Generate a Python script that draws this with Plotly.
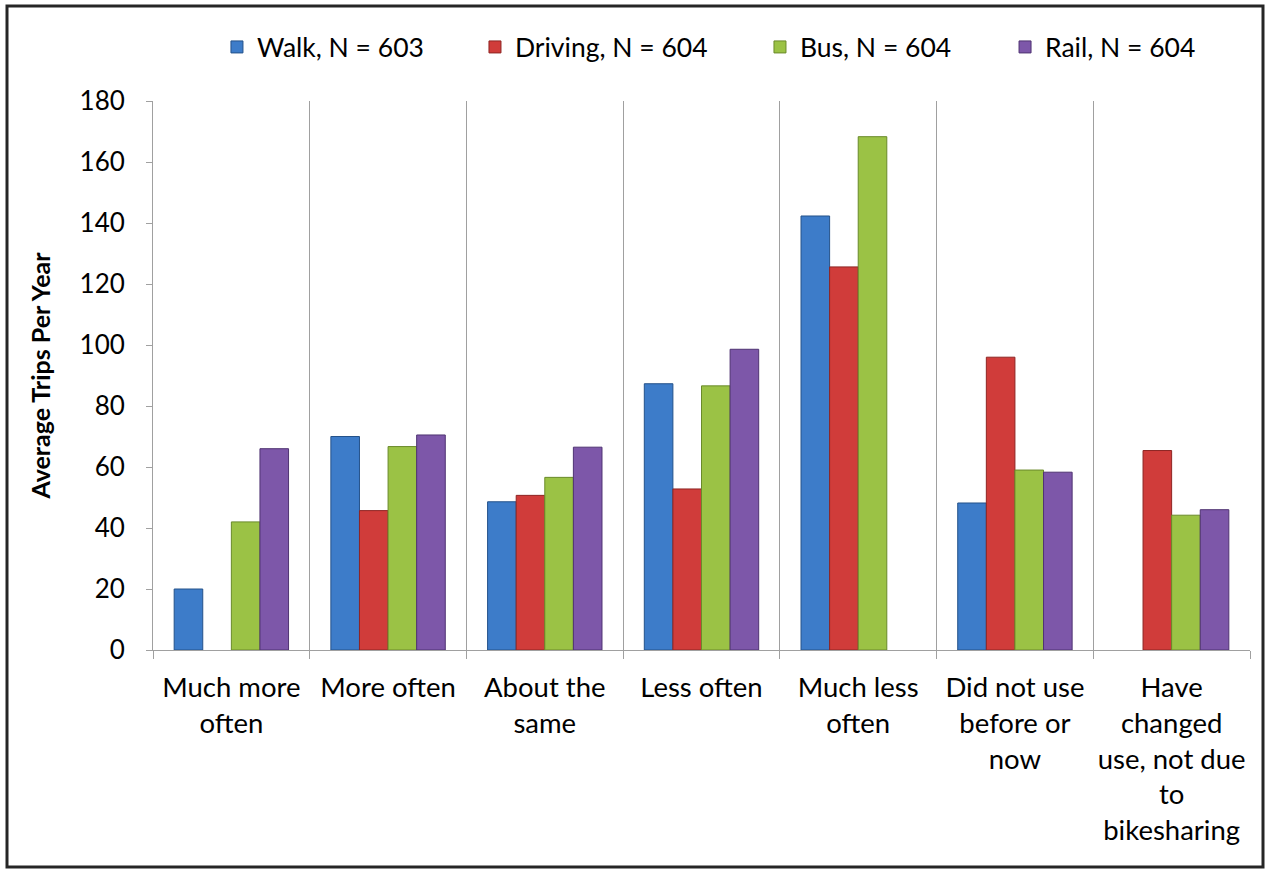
import plotly.graph_objects as go

categories = ["Much more<br>often", "More often", "About the<br>same", "Less often",
              "Much less<br>often", "Did not use<br>before or<br>now",
              "Have<br>changed<br>use, not due<br>to<br>bikesharing"]
series_names = ["Walk, N = 603", "Driving, N = 604", "Bus, N = 604", "Rail, N = 604"]
walk = [20, 70, 48.6, 87.3, 142.3, 48.2, None]
driving = [None, 45.7, 50.7, 52.8, 125.6, 96, 65.4]
bus = [42, 66.7, 56.6, 86.6, 168.3, 59, 44.2]
rail = [66, 70.5, 66.5, 98.6, None, 58.3, 46]
y_ticks = [0, 20, 40, 60, 80, 100, 120, 140, 160, 180]

colors = ["#3d7cc9", "#d03c3a", "#9bc245", "#7d57a9"]
edges = ["#24528a", "#8e2523", "#6a8a2a", "#4f3372"]
values = [walk, driving, bus, rail]
legend_ids = ["legend", "legend2", "legend3", "legend4"]
legend_x = [0.0583, 0.2935, 0.5533, 0.7767]

FONT = "Lato, Liberation Sans, sans-serif"

fig = go.Figure()
for name, vals, c, e, lid in zip(series_names, values, colors, edges, legend_ids):
    fig.add_trace(go.Bar(x=categories, y=vals, name=name, legend=lid, showlegend=True,
                         marker=dict(color=c, line=dict(color=e, width=1))))

layout_legends = {}
for lid, lx in zip(legend_ids, legend_x):
    layout_legends[lid] = dict(x=lx, y=1.098, xanchor="left", yanchor="middle",
                               orientation="h", bgcolor="rgba(0,0,0,0)",
                               font=dict(family=FONT, size=26.5, color="#000000"),
                               itemwidth=30)

fig.update_layout(
    width=1265, height=869,
    showlegend=True,
    margin=dict(l=153, r=15, t=101, b=219, autoexpand=False),
    paper_bgcolor="white", plot_bgcolor="white",
    barmode="group", bargap=0.27, bargroupgap=0,
    font=dict(family=FONT, color="#000000"),
    **layout_legends,
    xaxis=dict(tickson="boundaries", showgrid=True, gridcolor="#a0a0a0", gridwidth=1,
               showline=True, linecolor="#a0a0a0", linewidth=1,
               ticks="outside", ticklen=8, tickcolor="#a0a0a0",
               ticklabelstandoff=13, tickangle=0, automargin=False,
               tickfont=dict(family=FONT, size=27.5, color="#000000")),
    yaxis=dict(range=[0, 180], tickvals=y_ticks, showgrid=False,
               showline=True, linecolor="#a0a0a0", linewidth=1,
               ticks="outside", ticklen=6, tickcolor="#a0a0a0",
               ticklabelstandoff=16, automargin=False,
               tickfont=dict(family=FONT, size=26, color="#000000"),
               title=dict(text="<b>Average Trips Per Year</b>",
                          font=dict(family=FONT, size=25, color="#000000"),
                          standoff=21),
               zeroline=False),
    shapes=[dict(type="rect", xref="paper", yref="paper",
                 x0=(7 - 153) / 1097, x1=(1263 - 153) / 1097,
                 y0=(650 - 867) / 549, y1=(650 - 6) / 549,
                 line=dict(color="#262626", width=3), fillcolor="rgba(0,0,0,0)",
                 layer="below")],
)

fig.write_html("out.html", config={"displayModeBar": False},
               post_script="document.body.style.margin='0';")
